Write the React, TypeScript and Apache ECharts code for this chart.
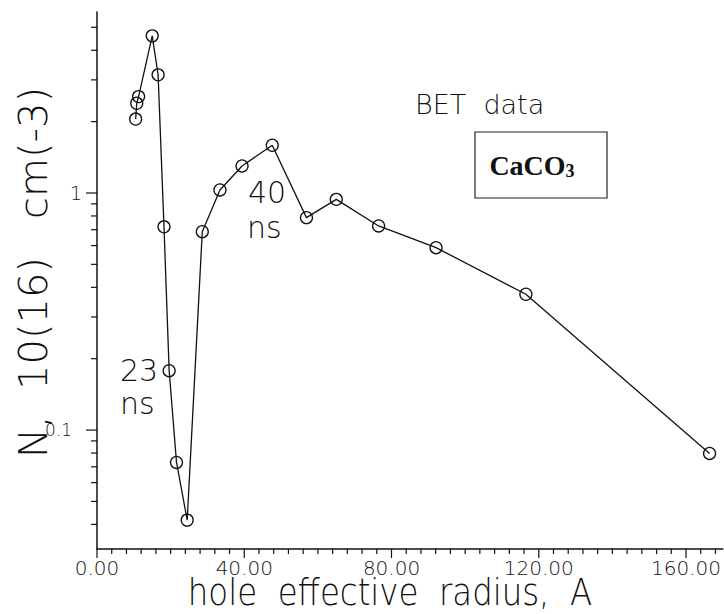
import React, { useEffect, useRef } from "react";
import * as echarts from "echarts";

// Hole effective radius (A) and hole concentration N (10^16 cm^-3), BET data for CaCO3
const RADIUS = [10.5, 10.8, 11.3, 15.0, 16.6, 18.2, 19.6, 21.6, 24.5, 28.6, 33.4, 39.4, 47.6, 56.9, 65.0, 76.5, 92.1, 116.5, 166.4];
const CONCENTRATION = [2.05, 2.39, 2.55, 4.6, 3.15, 0.72, 0.178, 0.073, 0.0417, 0.687, 1.03, 1.3, 1.59, 0.787, 0.94, 0.726, 0.588, 0.374, 0.0797];

// Axis ranges and tick marks
const X_MIN = 0;
const X_MAX = 170;
const X_MAJOR = [0, 40, 80, 120, 160];
const X_MINOR_STEP = 4;
const Y_MIN = 0.0315;
const Y_MAX = 5.8;
const Y_MAJOR = [0.1, 1];
const Y_MINOR = [0.04, 0.05, 0.06, 0.07, 0.08, 0.09, 0.2, 0.3, 0.4, 0.5, 0.6, 0.7, 0.8, 0.9, 2, 3, 4, 5];

const X_TICKS: number[] = [];
for (let v = X_MIN; v <= X_MAX - 1; v += X_MINOR_STEP) X_TICKS.push(v);
const Y_TICKS = [...Y_MAJOR, ...Y_MINOR];

const FONT = "DejaVu Sans";
const INK = "#111";

export default function App() {
  const ref = useRef<HTMLDivElement>(null);

  useEffect(() => {
    if (!ref.current) return;
    const chart = echarts.init(ref.current, null, { renderer: "svg" });

    chart.setOption({
      animation: false,
      backgroundColor: "#fff",
      grid: { left: 97, right: 0, top: 12, bottom: 65 },
      xAxis: {
        type: "value",
        min: X_MIN,
        max: X_MAX,
        interval: 40,
        axisLine: { show: true, lineStyle: { color: INK, width: 1.5 } },
        axisTick: { show: false },
        splitLine: { show: false },
        axisLabel: {
          showMaxLabel: false,
          margin: 9,
          formatter: (v: number) => v.toFixed(2),
          fontFamily: FONT,
          fontWeight: 200,
          fontSize: 20,
          color: INK,
        },
      },
      yAxis: {
        type: "log",
        logBase: 10,
        min: Y_MIN,
        max: Y_MAX,
        axisLine: { show: true, lineStyle: { color: INK, width: 1.5 } },
        axisTick: { show: false },
        splitLine: { show: false },
        axisLabel: {
          showMinLabel: false,
          showMaxLabel: false,
          margin: 15,
          formatter: (v: number) => {
            if (Math.abs(v - 1) < 1e-9) return "{one|1}";
            if (Math.abs(v - 0.1) < 1e-9) return "{tenth|0.1}";
            return "";
          },
          rich: {
            one: { fontFamily: FONT, fontWeight: 200, fontSize: 19, color: INK },
            tenth: { fontFamily: FONT, fontWeight: 200, fontSize: 17, color: INK, padding: [0, 10, 0, 0] },
          },
        },
      },
      series: [
        {
          type: "line",
          data: RADIUS.map((x, i) => [x, CONCENTRATION[i]]),
          symbol: "circle",
          symbolSize: 12,
          lineStyle: { color: INK, width: 1.3 },
          itemStyle: { color: "none", borderColor: INK, borderWidth: 1.3 },
          z: 3,
        },
        {
          type: "custom",
          silent: true,
          data: X_TICKS.map((v) => [v, Y_MIN]),
          renderItem: (_params: any, api: any) => {
            const v = api.value(0);
            const p = api.coord([v, api.value(1)]);
            const major = X_MAJOR.includes(v);
            return {
              type: "line",
              shape: { x1: p[0], y1: p[1], x2: p[0], y2: p[1] + (major ? 9 : 5) },
              style: { stroke: INK, lineWidth: 1.2 },
            };
          },
          z: 4,
        },
        {
          type: "custom",
          silent: true,
          data: Y_TICKS.map((v) => [X_MIN, v]),
          renderItem: (_params: any, api: any) => {
            const v = api.value(1);
            const p = api.coord([api.value(0), v]);
            const major = Y_MAJOR.includes(v);
            return {
              type: "line",
              shape: { x1: p[0] - (major ? 11 : 6), y1: p[1], x2: p[0], y2: p[1] },
              style: { stroke: INK, lineWidth: 1.2 },
            };
          },
          z: 4,
        },
      ],
      graphic: [
        {
          type: "text",
          x: 390,
          y: 592,
          scaleX: 1.08,
          scaleY: 1.22,
          style: {
            text: "hole  effective  radius,  A",
            fontFamily: FONT,
            fontWeight: 200,
            fontSize: 30,
            fill: INK,
            align: "center",
            verticalAlign: "middle",
          },
        },
        {
          type: "text",
          x: 34,
          y: 458,
          rotation: Math.PI / 2,
          scaleX: 1.25,
          scaleY: 1.2,
          style: {
            text: "N,  10(16)   cm(-3)",
            fontFamily: FONT,
            fontWeight: 200,
            fontSize: 32,
            fill: INK,
            align: "left",
            verticalAlign: "middle",
          },
        },
        {
          type: "text",
          x: 415,
          y: 104,
          style: { text: "BET  data", fontFamily: FONT, fontWeight: 200, fontSize: 27, fill: INK, verticalAlign: "middle" },
        },
        {
          type: "rect",
          shape: { x: 475, y: 132, width: 132, height: 66 },
          style: { fill: "none", stroke: "#222", lineWidth: 1.2 },
        },
        {
          type: "text",
          x: 532,
          y: 165,
          style: {
            text: "{b|CaCO}{s|3}",
            align: "center",
            verticalAlign: "middle",
            rich: {
              b: { fontFamily: "Liberation Serif", fontWeight: "bold", fontSize: 28, fill: INK },
              s: { fontFamily: "Liberation Serif", fontWeight: "bold", fontSize: 18, fill: INK, padding: [12, 0, 0, 0] },
            },
          },
        },
        {
          type: "text",
          x: 120,
          y: 370,
          style: { text: "23", fontFamily: FONT, fontWeight: 200, fontSize: 30, fill: INK, verticalAlign: "middle" },
        },
        {
          type: "text",
          x: 120,
          y: 403,
          style: { text: "ns", fontFamily: FONT, fontWeight: 200, fontSize: 30, fill: INK, verticalAlign: "middle" },
        },
        {
          type: "text",
          x: 248,
          y: 192,
          style: { text: "40", fontFamily: FONT, fontWeight: 200, fontSize: 30, fill: INK, verticalAlign: "middle" },
        },
        {
          type: "text",
          x: 247,
          y: 227,
          style: { text: "ns", fontFamily: FONT, fontWeight: 200, fontSize: 30, fill: INK, verticalAlign: "middle" },
        },
      ],
    });

    return () => chart.dispose();
  }, []);

  return (
    <div
      ref={ref}
      style={{ position: "fixed", left: 0, top: 0, width: 724, height: 614, background: "#fff" }}
    />
  );
}
